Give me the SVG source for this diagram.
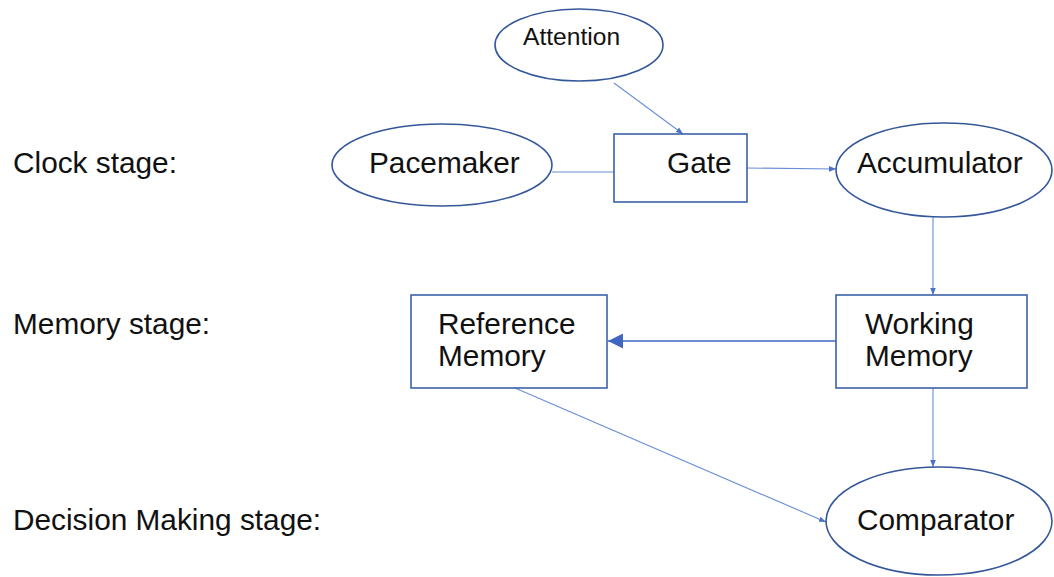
<svg xmlns="http://www.w3.org/2000/svg" width="1054" height="577" viewBox="0 0 1054 577">
  <style>
    .shape { fill: #ffffff; stroke: #34579a; stroke-width: 1.6; }
    .box { fill: #ffffff; stroke: #3b62a8; stroke-width: 1.6; }
    .link { fill: none; stroke: #6a8fd6; stroke-width: 1.1; }
    .link-strong { fill: none; stroke: #3f67c0; stroke-width: 1.6; }
    text { font-family: "Liberation Sans", Arial, sans-serif; fill: #111111; }
    .lbl { font-size: 29.8px; }
    .small { font-size: 24.6px; }
  </style>
  <defs>
    <marker id="tip" viewBox="0 0 10 10" refX="10" refY="5" markerWidth="7" markerHeight="7" markerUnits="userSpaceOnUse" orient="auto">
      <path d="M0,1 L10,5 L0,9 Z" fill="#4a72c8"/>
    </marker>
    <marker id="tip-big" viewBox="0 0 10 10" refX="10" refY="5" markerWidth="15" markerHeight="15" markerUnits="userSpaceOnUse" orient="auto">
      <path d="M0,0 L10,5 L0,10 Z" fill="#3f67c0"/>
    </marker>
  </defs>

  <!-- stage captions -->
  <g id="stage-labels">
    <text class="lbl" x="13" y="173">Clock stage:</text>
    <text class="lbl" x="13" y="334">Memory stage:</text>
    <text class="lbl" x="13" y="530">Decision Making stage:</text>
  </g>

  <!-- connectors -->
  <g id="connectors">
    <line class="link" x1="614" y1="83" x2="683" y2="134" marker-end="url(#tip)"/>
    <line class="link" x1="552" y1="172" x2="614" y2="172"/>
    <line class="link" x1="747" y1="168" x2="836" y2="169" marker-end="url(#tip)"/>
    <line class="link" x1="933" y1="217" x2="933" y2="295" marker-end="url(#tip)"/>
    <line class="link-strong" x1="836" y1="341" x2="608" y2="341" marker-end="url(#tip-big)"/>
    <line class="link" x1="933" y1="388" x2="933" y2="467" marker-end="url(#tip)"/>
    <line class="link" x1="515" y1="388" x2="826" y2="522" marker-end="url(#tip)"/>
  </g>

  <g id="attention">
    <ellipse class="shape" cx="579" cy="45" rx="84" ry="36"/>
    <text class="small" x="523" y="45">Attention</text>
  </g>

  <g id="pacemaker">
    <ellipse class="shape" cx="442" cy="165" rx="110" ry="41"/>
    <text class="lbl" x="369" y="173">Pacemaker</text>
  </g>

  <g id="gate">
    <rect class="box" x="614" y="134" width="133" height="68"/>
    <text class="lbl" x="667" y="173">Gate</text>
  </g>

  <g id="accumulator">
    <ellipse class="shape" cx="944" cy="170" rx="108" ry="47"/>
    <text class="lbl" x="857" y="173">Accumulator</text>
  </g>

  <g id="reference-memory">
    <rect class="box" x="411" y="295" width="196" height="93"/>
    <text class="lbl" x="438" y="334">Reference</text>
    <text class="lbl" x="438" y="366">Memory</text>
  </g>

  <g id="working-memory">
    <rect class="box" x="836" y="295" width="191" height="93"/>
    <text class="lbl" x="865" y="334">Working</text>
    <text class="lbl" x="865" y="366">Memory</text>
  </g>

  <g id="comparator">
    <ellipse class="shape" cx="939" cy="521" rx="113" ry="54"/>
    <text class="lbl" x="857" y="530">Comparator</text>
  </g>
</svg>
